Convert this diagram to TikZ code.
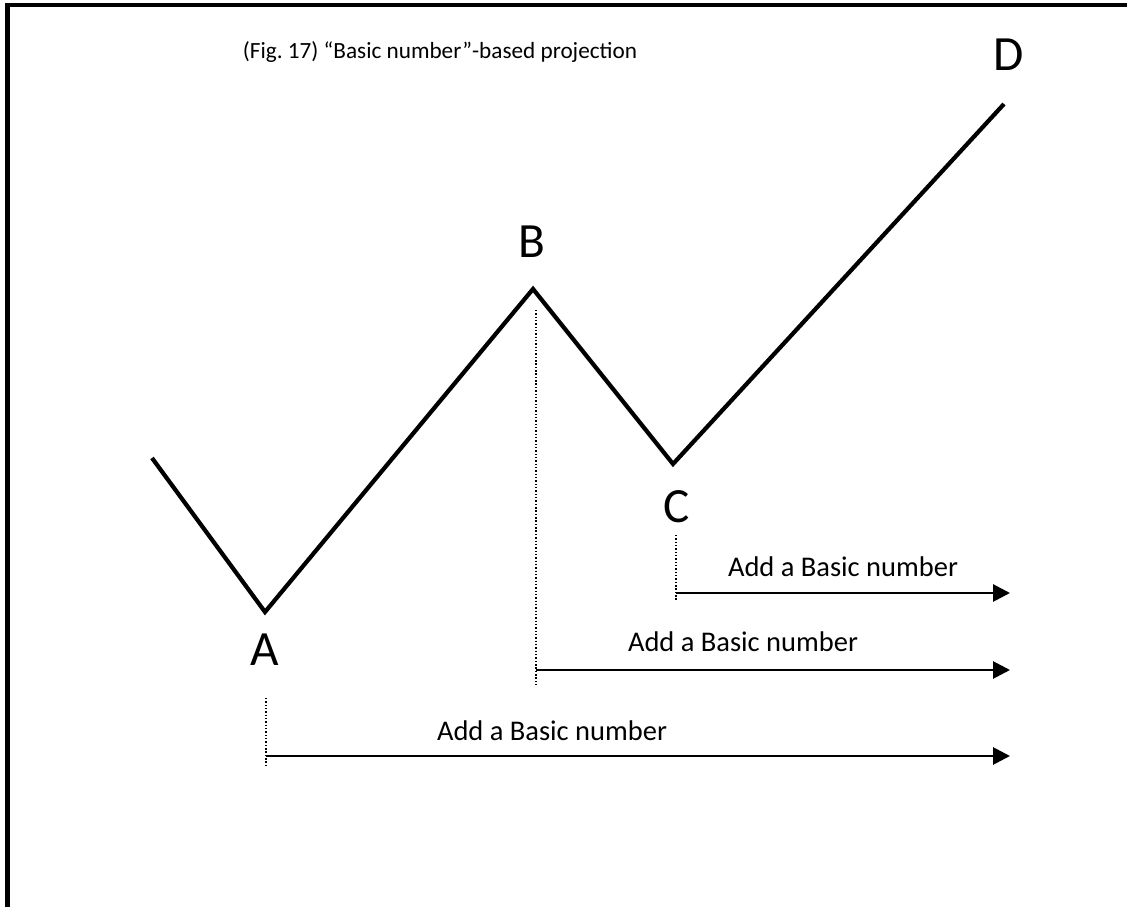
\documentclass[tikz,border=0pt]{standalone}
\usepackage{fontspec}
\setmainfont{Carlito}
\usetikzlibrary{arrows.meta}
\frenchspacing

\begin{document}
\begin{tikzpicture}[x=0.01cm,y=-0.01cm,
    zig/.style={line width=1.2pt},
    guide/.style={line width=0.45pt,dash pattern=on 0.4pt off 0.55pt},
    proj/.style={line width=0.8pt,-{Triangle[length=4.8pt,width=4.8pt]}},
    ltr/.style={font=\fontsize{14}{16}\selectfont,inner sep=0pt},
    lbl/.style={font=\fontsize{8.1}{9}\selectfont,inner sep=0pt}]
  \useasboundingbox (0,0) rectangle (1127,907);
  % frame
  \draw[line width=1.3pt] (7.5,907) -- (7.5,5) -- (1127,5);
  \node[font=\fontsize{6.6}{8}\selectfont,inner sep=0pt](title) at (440,52){(Fig. 17) “Basic number”-based projection};
  % wave
  \coordinate (S) at (152,458);
  \coordinate (A) at (265,612);
  \coordinate (B) at (533,289);
  \coordinate (C) at (673,464);
  \coordinate (D) at (1004,104);
  \draw[zig] (S)--(A)--(B)--(C)--(D);
  \node[ltr](lA) at (265,650){A};
  \node[ltr](lB) at (532,242){B};
  \node[ltr](lC) at (677,507){C};
  \node[ltr](lD) at (1009,55){D};
  % projections
  \coordinate (c0) at (676,535);
  \coordinate (c1) at (676,600);
  \coordinate (c2) at (676,593);
  \coordinate (c3) at (1010,593);
  \coordinate (b0) at (536,310);
  \coordinate (b1) at (536,685);
  \coordinate (b2) at (536,670);
  \coordinate (b3) at (1010,670);
  \coordinate (a0) at (266,698);
  \coordinate (a1) at (266,768);
  \coordinate (a2) at (266,756);
  \coordinate (a3) at (1010,756);
  \draw[guide](c0)--(c1);
  \draw[guide](b0)--(b1);
  \draw[guide](a0)--(a1);
  \draw[proj](c2)--(c3);
  \draw[proj](b2)--(b3);
  \draw[proj](a2)--(a3);
  \node[lbl](tC) at (843,567){Add a Basic number};
  \node[lbl](tB) at (743,642){Add a Basic number};
  \node[lbl](tA) at (552,731){Add a Basic number};
\end{tikzpicture}
\end{document}
